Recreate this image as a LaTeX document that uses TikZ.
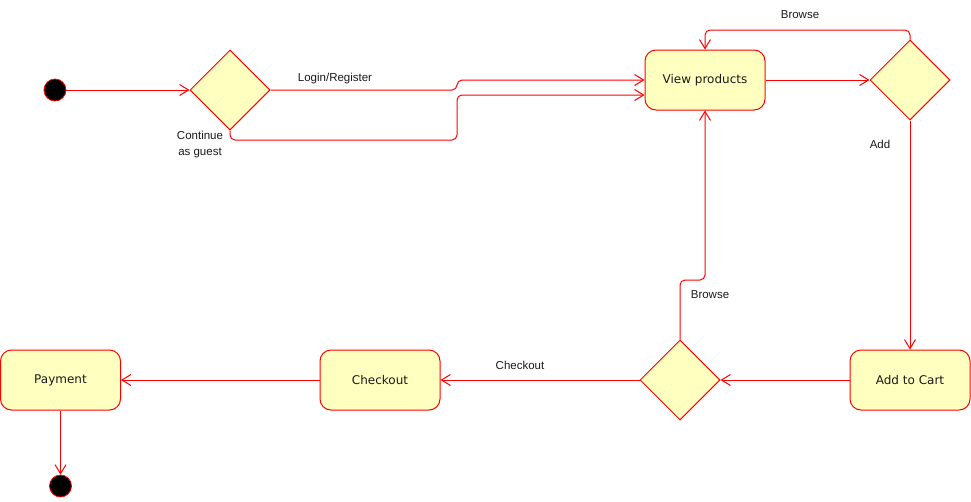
\documentclass[tikz,border=0pt]{standalone}
\usepackage{fontspec}
\setmainfont{Liberation Sans}
\newfontfamily\nodefont{DejaVu Sans}
\usetikzlibrary{shapes.geometric,arrows.meta}
\definecolor{umlfill}{HTML}{FFFFC0}
\definecolor{umlred}{HTML}{FF0000}
\definecolor{txt}{HTML}{1A1A1A}
\tikzset{
  statebox/.style={draw=umlred, fill=umlfill, line width=1pt, rounded corners=11pt,
    minimum width=120pt, minimum height=60pt, inner sep=0pt, font=\nodefont\fontsize{12}{14}\selectfont, text=txt},
  decision/.style={draw=umlred, fill=umlfill, line width=1pt, diamond, aspect=1,
    minimum width=80pt, minimum height=80pt, inner sep=0pt},
  endpoint/.style={draw=umlred, fill=black, circle, minimum size=22pt, inner sep=0pt, line width=0.8pt},
  flow/.style={draw=umlred, line width=1pt, rounded corners=5pt, -{Straight Barb[length=9pt,width=11pt,line width=1pt]}},
  lbl/.style={font=\fontsize{11.5}{16}\selectfont, text=txt, inner sep=0pt, align=center}
}
\begin{document}
\begin{tikzpicture}[x=1pt,y=-1pt]
\useasboundingbox (0,0) rectangle (971,501);
\node[endpoint] (start) at (55,90) {};
\node[decision] (d1) at (230,90) {};
\node[statebox] (view) at (705,80) {View products};
\node[decision] (d2) at (910,80) {};
\node[statebox] (cart) at (910,380) {Add to Cart};
\node[decision] (d3) at (680,380) {};
\node[statebox] (checkout) at (380,380) {Checkout};
\node[statebox] (payment) at (60.5,380) {Payment};
\node[endpoint] (end) at (60.5,486) {};

\draw[flow] (start) -- (d1.west);
\draw[flow] (d1.east) -- (457,90) -- (457,80) -- (view.west);
\draw[flow] (d1.south) -- (230,140) -- (457,140) -- (457,95) -- ([yshift=-15pt]view.west);
\draw[flow] (view.east) -- (d2.west);
\draw[flow] (d2.north) -- (910,30) -- (705,30) -- (view.north);
\draw[flow] (d2.south) -- (cart.north);
\draw[flow] (cart.west) -- (d3.east);
\draw[flow] (d3.north) -- (680,280) -- (705,280) -- (view.south);
\draw[flow] (d3.west) -- (checkout.east);
\draw[flow] (checkout.west) -- (payment.east);
\draw[flow] (payment.south) -- (end.north);

\node[lbl] (l1) at (335,79) {Login/Register};
\node[lbl] (l2) at (200,145) {Continue\\as guest};
\node[lbl] (l3) at (800,15) {Browse};
\node[lbl] (l4) at (880,144) {Add};
\node[lbl] (l5) at (710,295) {Browse};
\node[lbl] (l6) at (520,365) {Checkout};
\end{tikzpicture}
\end{document}
